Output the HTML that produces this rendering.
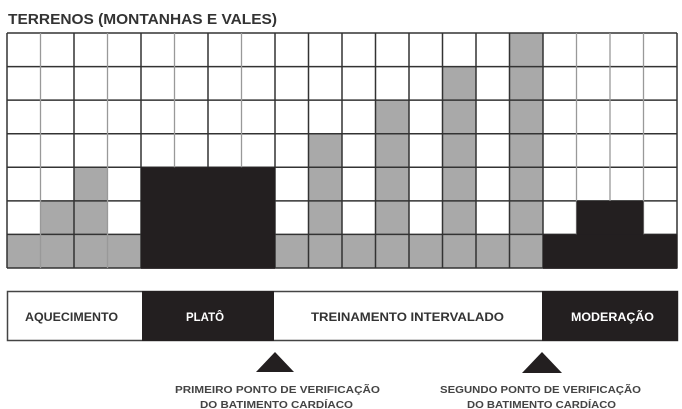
<!DOCTYPE html>
<html><head><meta charset="utf-8"><style>
html,body{margin:0;padding:0;background:#fff;}
svg{display:block;}
text{font-family:"Liberation Sans Narrow","Liberation Sans",sans-serif;font-weight:bold;}
</style></head><body>
<svg width="682" height="409" viewBox="0 0 682 409" xmlns="http://www.w3.org/2000/svg">
<rect width="682" height="409" fill="#fff"/>
<text x="8" y="24" font-size="15" fill="#333" textLength="269" lengthAdjust="spacingAndGlyphs">TERRENOS (MONTANHAS E VALES)</text>
<g fill="#a9a9a9">
<rect x="7" y="234.4" width="33.5" height="33.6"/>
<rect x="40.5" y="200.9" width="33.5" height="67.1"/>
<rect x="74" y="167.3" width="33.5" height="100.7"/>
<rect x="107.5" y="234.4" width="33.5" height="33.6"/>
<rect x="275" y="234.4" width="33.5" height="33.6"/>
<rect x="308.5" y="133.7" width="33.5" height="134.3"/>
<rect x="342" y="234.4" width="33.5" height="33.6"/>
<rect x="375.5" y="100.1" width="33.5" height="167.9"/>
<rect x="409" y="234.4" width="33.5" height="33.6"/>
<rect x="442.5" y="66.6" width="33.5" height="201.4"/>
<rect x="476" y="234.4" width="33.5" height="33.6"/>
<rect x="509.5" y="33" width="33.5" height="235"/>
</g>
<g stroke="#333" stroke-width="1.5">
<line x1="7" y1="33" x2="677" y2="33"/>
<line x1="7" y1="66.6" x2="677" y2="66.6"/>
<line x1="7" y1="100.1" x2="677" y2="100.1"/>
<line x1="7" y1="133.7" x2="677" y2="133.7"/>
<line x1="7" y1="167.3" x2="677" y2="167.3"/>
<line x1="7" y1="200.9" x2="677" y2="200.9"/>
<line x1="7" y1="234.4" x2="677" y2="234.4"/>
<line x1="7" y1="268" x2="677" y2="268"/>
<line x1="7" y1="33" x2="7" y2="268"/>
<line x1="74" y1="33" x2="74" y2="268"/>
<line x1="141" y1="33" x2="141" y2="268"/>
<line x1="208" y1="33" x2="208" y2="268"/>
<line x1="275" y1="33" x2="275" y2="268"/>
<line x1="308.5" y1="33" x2="308.5" y2="268"/>
<line x1="342" y1="33" x2="342" y2="268"/>
<line x1="375.5" y1="33" x2="375.5" y2="268"/>
<line x1="409" y1="33" x2="409" y2="268"/>
<line x1="442.5" y1="33" x2="442.5" y2="268"/>
<line x1="476" y1="33" x2="476" y2="268"/>
<line x1="509.5" y1="33" x2="509.5" y2="268"/>
<line x1="543" y1="33" x2="543" y2="268"/>
<line x1="677" y1="33" x2="677" y2="268"/>
</g>
<g stroke="#999" stroke-width="1.3">
<line x1="40.5" y1="33" x2="40.5" y2="268"/>
<line x1="107.5" y1="33" x2="107.5" y2="268"/>
<line x1="174.5" y1="33" x2="174.5" y2="268"/>
<line x1="241.5" y1="33" x2="241.5" y2="268"/>
<line x1="576.5" y1="33" x2="576.5" y2="268"/>
<line x1="610" y1="33" x2="610" y2="268"/>
<line x1="643.5" y1="33" x2="643.5" y2="268"/>
</g>
<g fill="#231f20">
<rect x="141" y="167.3" width="134" height="101.5"/>
<rect x="543" y="234.4" width="134.5" height="34.4"/>
<rect x="576.5" y="200.9" width="67" height="34"/>
</g>
<rect x="7.5" y="291.5" width="670" height="49" fill="#fff" stroke="#444" stroke-width="1.5"/>
<rect x="142" y="291" width="132" height="50" fill="#231f20"/>
<rect x="542" y="291" width="136" height="50" fill="#231f20"/>
<text x="25" y="321" font-size="11.5" fill="#333" textLength="93" lengthAdjust="spacingAndGlyphs">AQUECIMENTO</text>
<text x="186" y="321" font-size="11.5" fill="#fff" textLength="38" lengthAdjust="spacingAndGlyphs">PLATÔ</text>
<text x="311" y="321" font-size="11.5" fill="#333" textLength="193" lengthAdjust="spacingAndGlyphs">TREINAMENTO INTERVALADO</text>
<text x="571" y="321" font-size="11.5" fill="#fff" textLength="83" lengthAdjust="spacingAndGlyphs">MODERAÇÃO</text>
<polygon points="256,372 294,372 275,352" fill="#231f20"/>
<polygon points="522,373 562,373 542,352" fill="#231f20"/>
<g font-size="10.5" fill="#444">
<text x="175" y="393" textLength="205" lengthAdjust="spacingAndGlyphs">PRIMEIRO PONTO DE VERIFICAÇÃO</text>
<text x="200" y="408" textLength="153" lengthAdjust="spacingAndGlyphs">DO BATIMENTO CARDÍACO</text>
<text x="440" y="393" textLength="201" lengthAdjust="spacingAndGlyphs">SEGUNDO PONTO DE VERIFICAÇÃO</text>
<text x="467" y="408" textLength="149" lengthAdjust="spacingAndGlyphs">DO BATIMENTO CARDÍACO</text>
</g>
</svg>
</body></html>
